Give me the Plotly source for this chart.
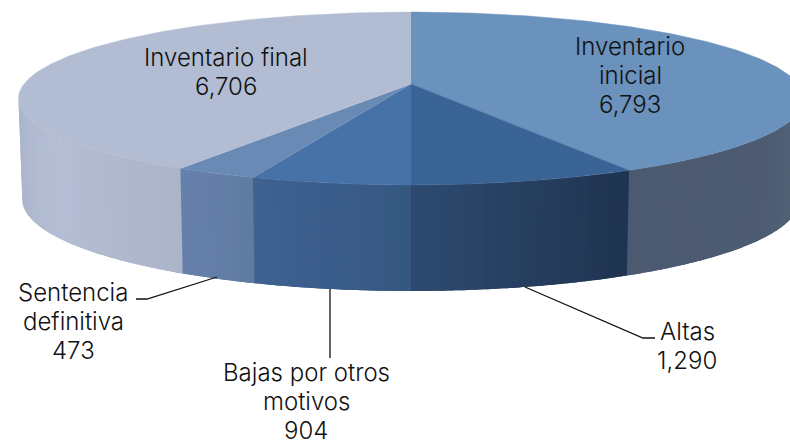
import math
import plotly.graph_objects as go

# Data, clockwise from 12 o'clock
categories = ["Inventario inicial", "Altas", "Bajas por otros motivos", "Sentencia definitiva", "Inventario final"]
values = [6793, 1290, 904, 473, 6706]
label_lines = [["Inventario", "inicial", "6,793"], ["Altas", "1,290"], ["Bajas por otros", "motivos", "904"],
               ["Sentencia", "definitiva", "473"], ["Inventario final", "6,706"]]
top_colors = ["#6A92BC", "#3A6496", "#4672A8", "#6A8AB6", "#B2BDD3"]
side_stops = [["#566879", "#4D5B72", "#4B5A70"],
              ["#1F334F", "#263F5F", "#2D4A70"],
              ["#355880", "#3A5C8A", "#3F6292"],
              ["#5F7AA0", "#637EA8", "#6580AC"],
              ["#ACB4C8", "#B4BED4", "#A9B3C9"]]
label_x = [630, 687, 306, 73, 226]
label_first_y = [46, 331, 372, 292, 57]
LINE_PITCH = 29
leader_x = [[525, 643, 655], [330, 330], [217, 147, 136]]
leader_y = [[287, 338, 338], [289, 358], [277, 299, 299]]

# Projection of the pie's disc
X0, Y_TOP, Y_BOTTOM = 411, 84, 184
A, K, P = 387, 84, 0.1676
BOTTOM_X_SCALE, BOTTOM_Y_SCALE = 0.99, 1.06
VIEW_START, VIEW_END = 99.6, 260.4  # the part of the wall that faces the viewer


def project(deg, y0, sx=1.0, sy=1.0):
    t = math.radians(deg)
    u, v = math.sin(t), math.cos(t)
    d = 1 + P * v
    return X0 + sx * A * u / d, y0 - sy * K * v / d


def hex_mix(a, b, f):
    ca = [int(a[i:i + 2], 16) for i in (1, 3, 5)]
    cb = [int(b[i:i + 2], 16) for i in (1, 3, 5)]
    return "#%02x%02x%02x" % tuple(round(p + (q - p) * f) for p, q in zip(ca, cb))


def stop_colour(stops, f):
    pos = f * (len(stops) - 1)
    i = min(int(pos), len(stops) - 2)
    return hex_mix(stops[i], stops[i + 1], pos - i)


total = sum(values)
edges = [0.0]
for v in values:
    edges.append(edges[-1] + v / total * 360)

fig = go.Figure()

# Outer wall, as narrow strips so each slice carries a gradient.
# Each strip reaches past its neighbour, and the next one paints over it, so no seams show.
for name, start, end, stops in zip(categories, edges[:-1], edges[1:], side_stops):
    a0, a1 = max(start, VIEW_START), min(end, VIEW_END)
    if a1 <= a0:
        continue
    n = max(2, int((a1 - a0) / 1.5))
    step = (a1 - a0) / n
    for i in range(n):
        s0 = a0 + step * i
        s1 = min(s0 + 2 * step, VIEW_END)
        colour = stop_colour(stops, (i + 0.5) / n)
        angs = [s0 + (s1 - s0) * j / 6 for j in range(7)]
        top = [project(d, Y_TOP) for d in angs]
        bot = [project(d, Y_BOTTOM, BOTTOM_X_SCALE, BOTTOM_Y_SCALE) for d in reversed(angs)]
        pts = top + bot
        fig.add_trace(go.Scatter(x=[p[0] for p in pts], y=[p[1] for p in pts], mode="none",
                                 fill="toself", fillcolor=colour,
                                 hoverinfo="skip", showlegend=False, name=name))

# Top face
for name, start, end, colour in zip(categories, edges[:-1], edges[1:], top_colors):
    n = max(6, int(end - start))
    pts = [(X0, Y_TOP)] + [project(start + (end - start) * i / n, Y_TOP) for i in range(n + 1)]
    fig.add_trace(go.Scatter(x=[p[0] for p in pts], y=[p[1] for p in pts], mode="lines",
                             fill="toself", fillcolor=colour, line=dict(color=colour, width=0.5),
                             hoverinfo="skip", showlegend=False, name=name))

# Leader lines
for lx, ly in zip(leader_x, leader_y):
    fig.add_trace(go.Scatter(x=lx, y=ly, mode="lines", line=dict(color="#111111", width=1.3),
                             hoverinfo="skip", showlegend=False))

# Labels, one annotation per line so the line pitch can match the reference
for lines, x, y0 in zip(label_lines, label_x, label_first_y):
    for i, line in enumerate(lines):
        fig.add_annotation(x=x, y=y0 + i * LINE_PITCH, text=line, showarrow=False, xref="x", yref="y",
                           font=dict(family="Inter", size=24, weight=300, color="#111111"), align="center")

fig.update_layout(width=790, height=445, margin=dict(l=0, r=0, t=0, b=0),
                  paper_bgcolor="white", plot_bgcolor="white",
                  xaxis=dict(range=[0, 790], visible=False, fixedrange=True),
                  yaxis=dict(range=[445, 0], visible=False, fixedrange=True))
fig.write_html("out.html", config=dict(displayModeBar=False),
               post_script="document.body.style.margin='0';document.body.style.overflow='hidden';")
